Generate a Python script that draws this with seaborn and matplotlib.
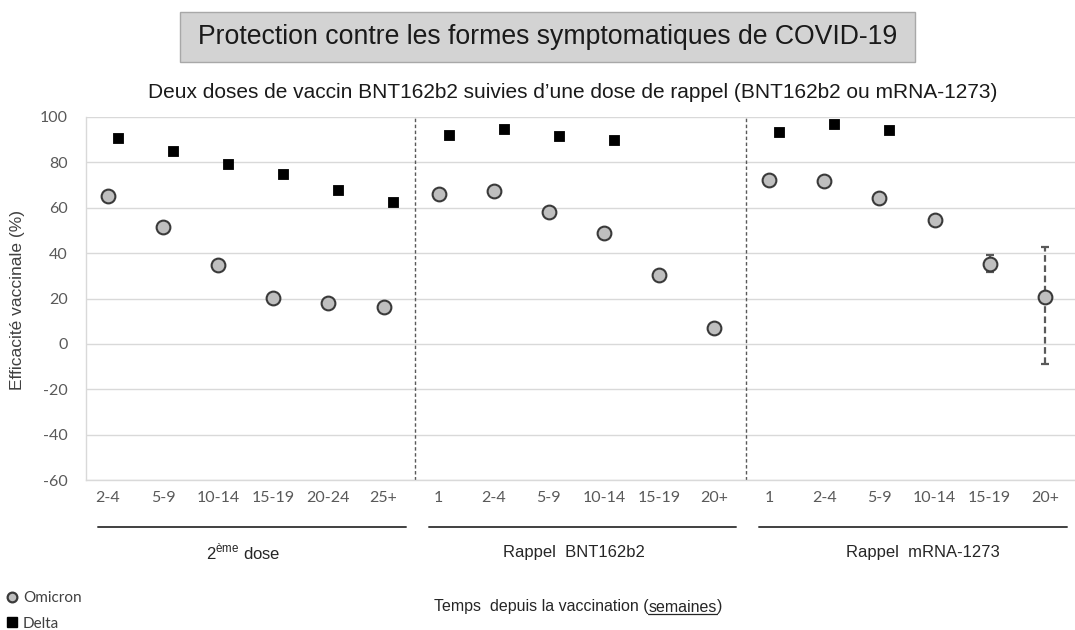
import numpy as np
import pandas as pd
import matplotlib
matplotlib.use("Agg")
import matplotlib.pyplot as plt
import matplotlib.transforms as mtransforms
from matplotlib import font_manager
from matplotlib.lines import Line2D
from matplotlib.patches import Rectangle
import seaborn as sns

# ---------------------------------------------------------------- data
groups = ["2$^{\\mathregular{ème}}$ dose", "Rappel  BNT162b2", "Rappel  mRNA-1273"]
periods_dose2 = ["2-4", "5-9", "10-14", "15-19", "20-24", "25+"]
periods_bnt = ["1", "2-4", "5-9", "10-14", "15-19", "20+"]
periods_mrna = ["1", "2-4", "5-9", "10-14", "15-19", "20+"]

omicron_dose2 = [65.3, 51.5, 34.6, 20.1, 18.1, 16.3]
omicron_bnt = [66.2, 67.2, 58.2, 48.8, 30.3, 7.1]
omicron_mrna = [72.2, 71.9, 64.4, 54.6, 35.4, 20.6]

delta_dose2 = [90.7, 85.1, 79.1, 74.7, 67.8, 62.5]
delta_bnt = [92.2, 94.6, 91.8, 89.9]
delta_mrna = [93.4, 96.8, 94.4]

# confidence intervals drawn for the last two mRNA-1273 Omicron estimates
ci_periods_mrna = ["15-19", "20+"]
ci_low_mrna = [31.5, -8.8]
ci_high_mrna = [39.0, 42.8]

title = "Protection contre les formes symptomatiques de COVID-19"
subtitle = ("Deux doses de vaccin BNT162b2 suivies d\u2019une dose de rappel "
            "(BNT162b2 ou mRNA-1273)")
ylabel = "Efficacité vaccinale (%)"
xlabel_parts = ["Temps  depuis la vaccination (", "semaines", ")"]

# ---------------------------------------------------------------- table
periods_all = [periods_dose2, periods_bnt, periods_mrna]
omicron_all = [omicron_dose2, omicron_bnt, omicron_mrna]
delta_all = [delta_dose2, delta_bnt, delta_mrna]

DELTA_SHIFT = 0.18
rows = []
offsets = []
start = 0
for g, per, om, de in zip(groups, periods_all, omicron_all, delta_all):
    offsets.append(start)
    for i, p in enumerate(per):
        rows.append(dict(group=g, period=p, pos=start + i, variant="Omicron", ve=om[i]))
    for i, v in enumerate(de):
        rows.append(dict(group=g, period=per[i], pos=start + i + DELTA_SHIFT,
                         variant="Delta", ve=v))
    start += len(per)
df = pd.DataFrame(rows)
tick_pos = np.arange(start)
tick_lab = [p for per in periods_all for p in per]

# ---------------------------------------------------------------- fonts
names = {f.name for f in font_manager.fontManager.ttflist}
SANS = "Liberation Sans Narrow" if "Liberation Sans Narrow" in names else "Liberation Sans"
CAL = "Lato"

sns.set_style("white")
plt.rcParams["font.family"] = ["Liberation Sans", "DejaVu Sans"]
plt.rcParams["axes.unicode_minus"] = False

W, H = 1075, 630
fig = plt.figure(figsize=(W / 100, H / 100), dpi=100)
ax = fig.add_axes([86 / W, 1 - 480 / H, 1 - 86 / W, (480 - 117) / H])

# ---------------------------------------------------------------- marks
om_df = df[df.variant == "Omicron"]
de_df = df[df.variant == "Delta"]

mrna_off = offsets[2]
ci_x = [mrna_off + periods_mrna.index(p) for p in ci_periods_mrna]
ci_y = [omicron_mrna[periods_mrna.index(p)] for p in ci_periods_mrna]
err = [np.subtract(ci_y, ci_low_mrna), np.subtract(ci_high_mrna, ci_y)]
eb = ax.errorbar(ci_x, ci_y, yerr=err, fmt="none", ecolor="#595959",
                 elinewidth=1.6, capsize=3, capthick=1.6, zorder=2)
eb[2][0].set_linestyle((0, (3, 1.6)))

sns.scatterplot(data=om_df, x="pos", y="ve", ax=ax, marker="o", s=98,
                color="#bfbfbf", edgecolor="#3a3a3a", linewidth=1.5,
                zorder=3, legend=False)
sns.scatterplot(data=de_df, x="pos", y="ve", ax=ax, marker="s", s=50,
                color="#000000", edgecolor="#000000", linewidth=0.6,
                zorder=3, legend=False)

# vertical separators between the three schedules
for off in offsets[1:]:
    ax.axvline(off - 0.42, color="#595959", lw=1.0, ls=(0, (2.5, 1.8)), zorder=1)

# ---------------------------------------------------------------- axes
ax.set_xlim(-0.4, 17.55)
ax.set_ylim(-60, 100)
ax.set_yticks(np.arange(-60, 101, 20))
ax.set_xticks(tick_pos)
ax.set_xticklabels(tick_lab)
ax.yaxis.grid(True, color="#d9d9d9", lw=1.0, zorder=0)
ax.xaxis.grid(False)
ax.set_axisbelow(True)
for s in ["top", "right"]:
    ax.spines[s].set_visible(False)
for s in ["left", "bottom"]:
    ax.spines[s].set_color("#d9d9d9")
    ax.spines[s].set_linewidth(1.0)
ax.tick_params(axis="both", length=0, labelcolor="#595959", labelsize=11.5)
ax.tick_params(axis="y", pad=13)
ax.tick_params(axis="x", pad=8)
for lab in ax.get_xticklabels() + ax.get_yticklabels():
    lab.set_fontfamily(CAL)
ax.set_xlabel("")
ax.set_ylabel("")

# ---------------------------------------------------------------- group brackets
line_y = 1 - 527 / H
lab_y = 1 - 552 / H
blend = mtransforms.blended_transform_factory(ax.transData, fig.transFigure)
nudges = [-0.05, -0.05, 0.28]
for g, off, per, nd in zip(groups, offsets, periods_all, nudges):
    x0, x1 = off - 0.18, off + len(per) - 1 + 0.4
    fig.add_artist(Line2D([x0, x1], [line_y, line_y], transform=blend,
                          color="#404040", lw=1.4, clip_on=False))
    fig.text(off + (len(per) - 1) / 2 + nd, lab_y, g, transform=blend,
             ha="center", va="center", fontsize=12, color="#262626",
             family=[SANS, "DejaVu Sans"])

# ---------------------------------------------------------------- titles
fig.add_artist(Rectangle((180 / W, 1 - 62 / H), 735 / W, 50 / H,
                         transform=fig.transFigure, facecolor="#d3d3d3",
                         edgecolor="#a8a8a8", lw=1.0))
fig.text(548 / W, 1 - 37 / H, title, ha="center", va="center",
         fontsize=19.2, color="#1a1a1a", family=["Liberation Sans", "DejaVu Sans"])
fig.text(573 / W, 1 - 93 / H, subtitle, ha="center", va="center",
         fontsize=15, color="#1a1a1a", family=[SANS, "DejaVu Sans"])
fig.text(18 / W, 1 - 300 / H, ylabel, rotation=90, ha="center", va="center",
         fontsize=12.5, color="#404040", family=[SANS, "DejaVu Sans"])

# x-axis title with the unit underlined
fig.canvas.draw()
rend = fig.canvas.get_renderer()
pieces = []
for p in xlabel_parts:
    t = fig.text(0, 1 - 607 / H, p, ha="left", va="center", fontsize=11.5,
                 color="#262626", family=[SANS, "DejaVu Sans"])
    pieces.append(t)
widths = [t.get_window_extent(rend).width for t in pieces]
x = 578 - sum(widths) / 2
for t, w in zip(pieces, widths):
    t.set_x(x / W)
    x += w
bb = pieces[1].get_window_extent(rend)
fig.add_artist(Line2D([bb.x0 / W, bb.x1 / W], [(bb.y0 + 1) / H] * 2,
                      transform=fig.transFigure, color="#262626", lw=0.9))

# ---------------------------------------------------------------- legend
handles = [
    Line2D([], [], ls="none", marker="o", ms=7, mfc="#bfbfbf", mec="#3a3a3a", mew=1.6),
    Line2D([], [], ls="none", marker="s", ms=6.5, mfc="#000000", mec="#000000"),
]
fig.legend(handles, ["Omicron", "Delta"], loc="upper left",
           bbox_to_anchor=(0.0, 1 - 585 / H), frameon=False,
           handlelength=0.8, handletextpad=0.3, labelspacing=0.75,
           borderaxespad=0, prop={"family": CAL, "size": 11},
           labelcolor="#404040")

fig.savefig("out.png", dpi=100)
